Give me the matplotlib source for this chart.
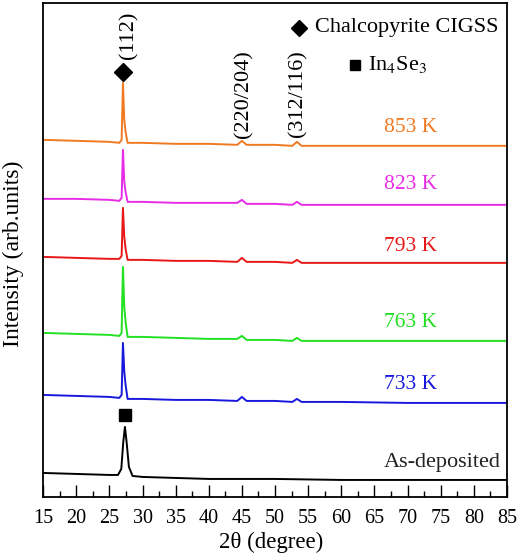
import matplotlib
matplotlib.use('Agg')
import matplotlib.pyplot as plt
from matplotlib.ticker import MultipleLocator

plt.rcParams['font.family'] = ['Liberation Serif', 'DejaVu Serif']
plt.rcParams['mathtext.fontset'] = 'stix'

# key points (2theta, offset intensity)
two_theta = [15, 20, 25, 26.5, 26.85, 27.05, 27.25, 27.45, 27.75, 30, 35, 40,
             44.3, 45.0, 45.7, 50, 52.6, 53.3, 54.0, 60, 70, 85]
i_853 = [357, 356, 355, 354, 357, 414, 377, 365, 354, 354, 353, 353,
         352, 356, 352, 352, 351, 355, 351, 351, 351, 351]
i_823 = [298, 298, 297, 296, 299, 347, 315, 305, 295, 295, 294, 294,
         294, 297, 293, 293, 292, 295, 292, 292, 292, 292]
i_793 = [240, 239, 238, 238, 241, 289, 260, 248, 237, 237, 236, 236,
         235, 239, 235, 235, 234, 237, 234, 234, 234, 234]
i_763 = [164, 163, 162, 161, 164, 230, 190, 175, 160, 160, 159, 158,
         158, 161, 157, 157, 156, 159, 156, 156, 156, 156]
i_733 = [102, 101, 100, 99, 102, 154, 125, 112, 98, 98, 97, 97,
         96, 100, 96, 96, 95, 98, 95, 95, 94, 94]

two_theta_dep = [15, 20, 25, 26.3, 26.8, 27.1, 27.35, 27.6, 27.95, 28.5, 30,
                 35, 40, 50, 60, 70, 85]
i_dep = [24, 23, 22, 22, 28, 55, 70, 55, 30, 21, 20, 19, 18, 18, 17, 17, 17]

series = [
    ('853 K', two_theta, i_853, '#F07A22', 369),
    ('823 K', two_theta, i_823, '#E62CE6', 312),
    ('793 K', two_theta, i_793, '#E81818', 250),
    ('763 K', two_theta, i_763, '#22E022', 174),
    ('733 K', two_theta, i_733, '#1818DC', 112),
]

fig = plt.figure(figsize=(5.19, 5.59), dpi=100)
ax = fig.add_axes([0.083, 0.111, 0.894, 0.884])

for name, xs, ys, col, ylab in series:
    ax.plot(xs, ys, color=col, lw=1.4)
    ax.text(70.4, ylab, name, color=col, fontsize=15.5, ha='center', va='center')

ax.plot(two_theta_dep, i_dep, color='black', lw=1.4)
ax.text(84, 34, 'As-deposited', color='#222222', fontsize=16, ha='right', va='center')

# peak markers and indices
ax.plot(27.1, 425, marker='D', color='black', ms=9, ls='none')
ax.plot(27.35, 82, marker='s', color='black', ms=9, ls='none')
ax.text(27.9, 461, '(112)', rotation=90, fontsize=16, ha='center', va='center')
ax.text(45.3, 403, '(220/204)', rotation=90, fontsize=16, ha='center', va='center')
ax.text(53.4, 403, '(312/116)', rotation=90, fontsize=16, ha='center', va='center')

# phase key
ax.plot(53.6, 469, marker='D', color='black', ms=8, ls='none')
ax.text(56.0, 469, 'Chalcopyrite CIGSS', fontsize=16, ha='left', va='center')
ax.plot(62.1, 432, marker='s', color='black', ms=7, ls='none')
ax.text(64.0, 432, r'In$_4$Se$_3$', fontsize=16, ha='left', va='center')

ax.set_xlim(15, 85)
ax.set_ylim(0, 494)
ax.xaxis.set_major_locator(MultipleLocator(5))
ax.xaxis.set_minor_locator(MultipleLocator(2.5))
ax.tick_params(axis='x', which='major', direction='in', length=9, width=1, labelsize=14.5, pad=9)
ax.tick_params(axis='x', which='minor', direction='in', length=4.5, width=1)
ax.set_yticks([])
for s in ax.spines.values():
    s.set_linewidth(1.3)

fig.text(0.523, 0.029, '2θ (degree)', fontsize=16.5, ha='center', va='center')
fig.text(0.025, 0.546, 'Intensity (arb.units)', fontsize=17, rotation=90,
         ha='center', va='center')

fig.savefig('out.png', dpi=100)
